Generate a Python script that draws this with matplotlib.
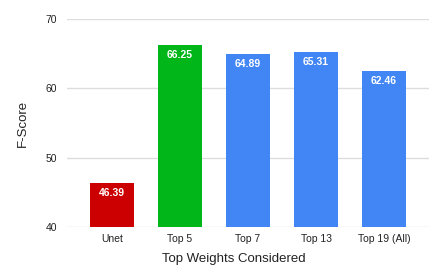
import matplotlib
matplotlib.use("Agg")
import matplotlib.pyplot as plt

categories = ["Unet", "Top 5", "Top 7", "Top 13", "Top 19 (All)"]
values = [46.39, 66.25, 64.89, 65.31, 62.46]
colors = ["#cc0000", "#00b619", "#4285f4", "#4285f4", "#4285f4"]
yticks = [40, 50, 60, 70]

plt.rcParams['font.family'] = ['Liberation Sans', 'DejaVu Sans']

fig = plt.figure(figsize=(4.43, 2.71), dpi=100)
ax = fig.add_axes([67/443, 1-227/271, (429-67)/443, (227-19)/271])

x = list(range(len(categories)))
ax.bar(x, values, width=0.647, color=colors, zorder=3)
for xi, v in zip(x, values):
    ax.annotate(f"{v:.2f}", (xi, v), xytext=(0, -10), textcoords="offset pixels",
                ha="center", va="center", color="white", fontweight="bold",
                fontsize=7.5, zorder=4)

ax.set_ylim(40, 70)
ax.set_xlim(-0.66, 4.66)
ax.set_yticks(yticks)
ax.set_xticks(x)
ax.set_xticklabels(categories)
ax.tick_params(axis="both", length=0, labelsize=7.5, colors="#222222")
ax.tick_params(axis="y", pad=7)
ax.tick_params(axis="x", pad=5)
ax.grid(axis="y", color="#dddddd", linewidth=1, zorder=0)
for s in ax.spines.values():
    s.set_visible(False)

ax.set_ylabel("F-Score", fontsize=9.5, color="#222222", labelpad=12)
fig.text(234/443, 1-259/271, "Top Weights Considered", ha="center", va="center",
         fontsize=9.5, color="#222222")

fig.savefig("out.png", dpi=100)
